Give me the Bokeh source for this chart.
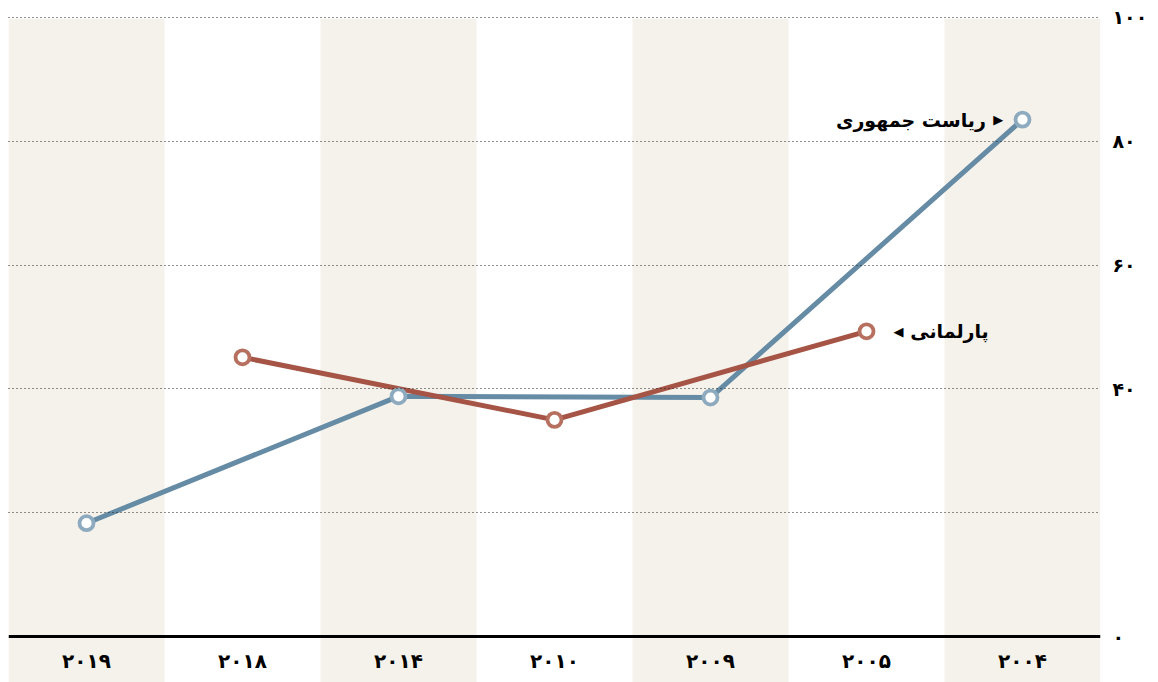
from bokeh.plotting import figure
from bokeh.models import Range1d, LinearAxis, FixedTicker, Span
from bokeh.core.properties import value
from bokeh.embed import file_html
from bokeh.resources import INLINE

# ---- data ----
years = ["۲۰۱۹", "۲۰۱۸", "۲۰۱۴", "۲۰۱۰", "۲۰۰۹", "۲۰۰۵", "۲۰۰۴"]
presidential = [18.3, None, 38.8, None, 38.6, None, 83.5]
parliamentary = [None, 45.1, None, 35.0, None, 49.3, None]
y_ticks = [0, 20, 40, 60, 80, 100]
y_tick_labels = ["۰", "", "۴۰", "۶۰", "۸۰", "۱۰۰"]
label_presidential = "ریاست جمهوری"
label_parliamentary = "پارلمانی"

FONT = "DejaVu Sans"
BAND = "#f5f2eb"
BLUE = "#658ba5"
BLUE_RING = "#8eaabe"
RED = "#a55445"
RED_RING = "#b7705f"

n = len(years)
y_bottom = -7.43
p = figure(width=1158, height=682, output_backend="svg", toolbar_location=None,
           x_range=Range1d(0, n), y_range=Range1d(y_bottom, 101.45),
           min_border_left=8, min_border_top=8, min_border_bottom=0, min_border_right=58)
p.xaxis.visible = False
p.yaxis.visible = False
p.xgrid.visible = False
p.outline_line_color = None
p.background_fill_color = "white"
p.border_fill_color = "white"

# alternating column bands
band_idx = [i for i in range(n) if i % 2 == 0]
p.quad(left=[i for i in band_idx], right=[i + 1 for i in band_idx],
       bottom=y_bottom, top=99.8, fill_color=BAND, line_color=None)

# grid
p.ygrid.ticker = FixedTicker(ticks=[t for t in y_ticks if t != 0])
p.ygrid.grid_line_color = "#222222"
p.ygrid.grid_line_dash = "1 3"
p.ygrid.grid_line_width = 1.2
p.ygrid.level = "overlay"

# right axis
ax = LinearAxis(ticker=FixedTicker(ticks=y_ticks))
ax.major_label_overrides = {t: l for t, l in zip(y_ticks, y_tick_labels)}
ax.axis_line_color = None
ax.major_tick_line_color = None
ax.minor_tick_line_color = None
ax.major_tick_out = 0
ax.major_label_standoff = 12
ax.major_label_text_font = FONT
ax.major_label_text_font_style = "bold"
ax.major_label_text_font_size = "19px"
ax.major_label_text_color = "black"
p.add_layout(ax, "right")

# baseline
p.add_layout(Span(location=0, dimension="width", line_color="black", line_width=3))

# x labels
p.text(x=[i + 0.5 for i in range(n)], y=[-3.9] * n, text=years,
       text_font=value(FONT), text_font_style="bold", text_font_size="20px",
       text_align="center", text_baseline="middle", text_color="black")

def pts(vals):
    xs = [i + 0.5 for i, v in enumerate(vals) if v is not None]
    ys = [v for v in vals if v is not None]
    return xs, ys

bx, by = pts(presidential)
rx, ry = pts(parliamentary)
p.line(bx, by, line_color=BLUE, line_width=5, line_join="round")
p.line(rx, ry, line_color=RED, line_width=5, line_join="round")
p.scatter(bx, by, size=14, fill_color="white", line_color=BLUE_RING, line_width=3.8)
p.scatter(rx, ry, size=14, fill_color="white", line_color=RED_RING, line_width=3.8)

# annotations
p.text(x=[6.265], y=[by[-1]], text=[label_presidential],
       text_font=value(FONT), text_font_style="bold", text_font_size="19px",
       text_align="right", text_baseline="middle", text_color="black")
p.text(x=[6.345], y=[by[-1]], text=["▶"],
       text_font=value(FONT), text_font_size="13px",
       text_align="center", text_baseline="middle", text_color="black")
p.text(x=[5.78], y=[ry[-1]], text=[label_parliamentary],
       text_font=value(FONT), text_font_style="bold", text_font_size="19px",
       text_align="left", text_baseline="middle", text_color="black")
p.text(x=[5.705], y=[ry[-1]], text=["◀"],
       text_font=value(FONT), text_font_size="13px",
       text_align="center", text_baseline="middle", text_color="black")

open("out.html", "w").write(file_html(p, INLINE))
